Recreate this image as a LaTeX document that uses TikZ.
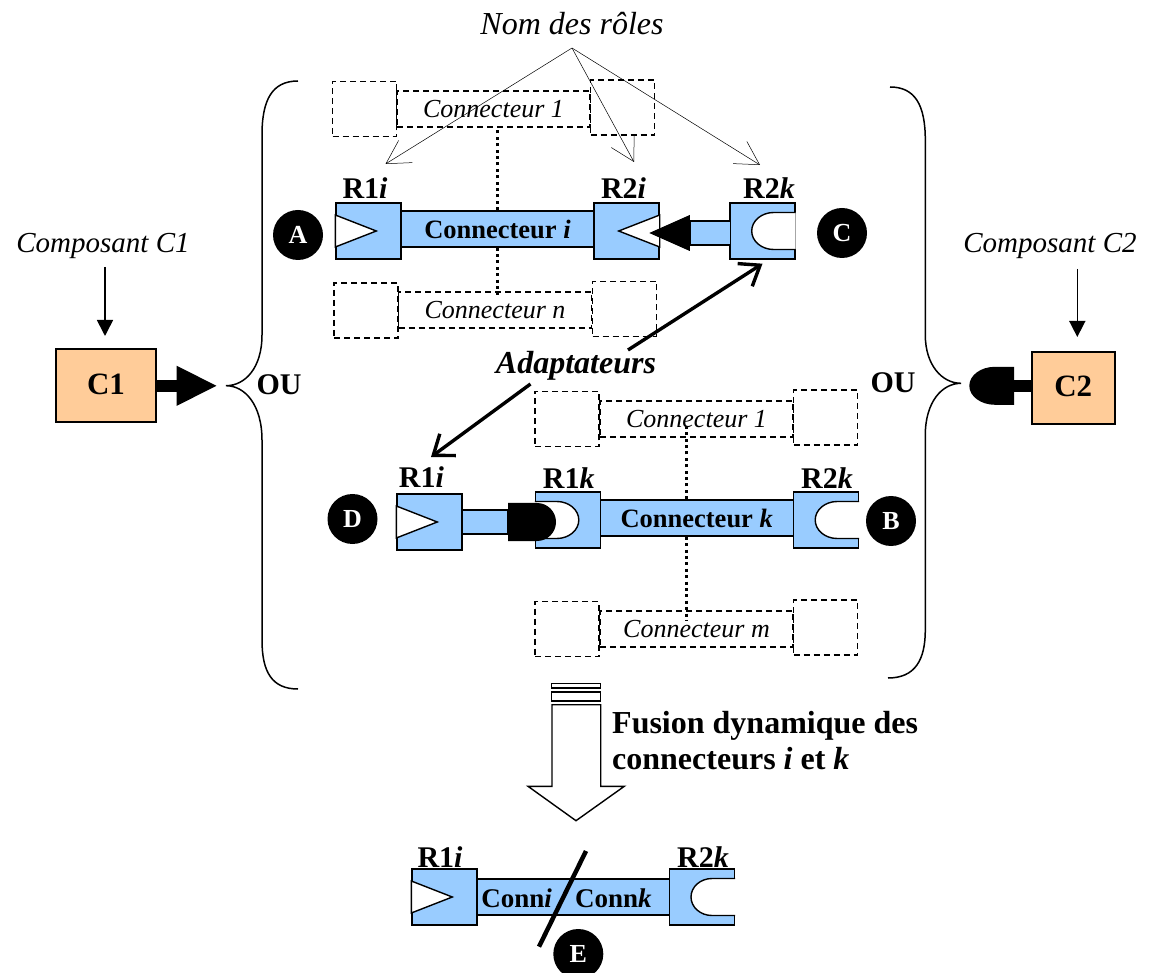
\documentclass[tikz,border=0pt]{standalone}
\usepackage{fontspec}
\setmainfont{Liberation Serif}
\usepackage{tikz}
\usetikzlibrary{arrows.meta, positioning, calc}
\definecolor{connblue}{HTML}{99CCFF}
\definecolor{compcolor}{HTML}{FFCC99}

\begin{document}
\begin{tikzpicture}[x=1pt, y=-1pt,
                role/.style={draw, line width=1.4pt, fill=connblue, minimum width=65pt, minimum height=56pt, inner sep=0pt},
                conn/.style={draw, line width=1.4pt, fill=connblue, minimum width=193pt, minimum height=36pt, inner sep=0pt,
                           font=\fontsize{26.5}{28}\selectfont\bfseries},
                adaptbar/.style={draw, line width=1.4pt, fill=connblue, minimum height=24pt, inner sep=0pt},
                ghostrole/.style={draw, line width=1.1pt, dash pattern=on 6pt off 4pt, minimum width=64pt, minimum height=55pt, inner sep=0pt},
                ghostconn/.style={draw, line width=1.1pt, dash pattern=on 6pt off 4pt, minimum width=193pt, minimum height=36pt, inner sep=0pt,
                           font=\fontsize{26}{28}\selectfont\itshape},
                comp/.style={draw, line width=1.6pt, fill=compcolor, inner sep=0pt, font=\fontsize{31}{33}\selectfont\bfseries},
                letterdot/.style={circle, fill=black, text=white, minimum size=50pt, inner sep=0pt, font=\fontsize{26}{28}\selectfont\bfseries},
                rolename/.style={inner sep=0pt, font=\fontsize{30}{32}\selectfont\bfseries},
                note/.style={inner sep=0pt, font=\fontsize{29}{31}\selectfont\itshape},
                port/.style={draw, line width=1.4pt, fill=white},
                dotlink/.style={line width=3pt, dash pattern=on 3pt off 3.4pt},
                namearrow/.style={line width=0.5pt, -{Straight Barb[length=23pt,width=26pt,line width=0.5pt]}},
                adaptarrow/.style={line width=3.4pt, -{Straight Barb[length=18pt,width=27pt,line width=3.4pt]}},
                callarrow/.style={line width=1.6pt, -{Triangle[length=16pt,width=16pt]}},
                brace/.style={line width=1.5pt}]

                \useasboundingbox (0,0) rectangle (1152,973);

                % Composants et accolades
                \node[comp, minimum width=100pt, minimum height=73pt] (c1) at (106,385.8) {\raisebox{4pt}{C1}};
                \node[comp, minimum width=83pt, minimum height=72pt] (c2) at (1073.3,387.9) {\raisebox{4pt}{C2}};
                \node[note] (compa) at (103,246) {Composant C1};
                \node[note] (compb) at (1050,246) {Composant C2};
                \coordinate (compatip) at (105,336);
                \coordinate (compbtip) at (1077.3,337);
                \draw[callarrow] (compa.south -| compatip) ++(0,8) -- (compatip);
                \draw[callarrow] (compb.south -| compbtip) ++(0,10) -- (compbtip);
                \coordinate (c1tip) at (217.5,385.8);
                \draw[line width=12pt, -{Triangle[length=41pt,width=37pt]}] (c1.east |- c1tip) -- (c1tip);
                \coordinate (c2cup) at (1014,385.8);
                \draw[line width=12pt] (c2.west |- c2cup) -- (c2cup);
                \fill ([yshift=19pt]c2cup) -- ++(-19,0) arc[start angle=90, end angle=270, x radius=25.7pt, y radius=19pt] -- ++(19,0) -- cycle;
                \draw[brace] (298,81) .. controls (272,81) and (262,100) .. (262,135) -- (262,335)
                    .. controls (262,368) and (245,385.7) .. (226,385.7)
                    .. controls (245,385.7) and (262,405) .. (262,440) -- (262,640)
                    .. controls (262,672) and (272,689) .. (298,689);
                \draw[brace] (890,87) .. controls (915,87) and (925.3,105) .. (925.3,140) -- (925.3,335)
                    .. controls (925.3,365) and (942,383.3) .. (961,383.3)
                    .. controls (942,383.3) and (925.3,402) .. (925.3,435) -- (925.3,630)
                    .. controls (925.3,660) and (915,678) .. (888,678);
                \node[rolename] (oua) at (279,385) {OU};
                \node[rolename] (oub) at (893,383) {OU};

                % Connecteur i
                \node[ghostrole] (g1a) at (364.5,109) {};
                \node[ghostrole] (g1b) at (622.5,107.5) {};
                \node[ghostconn] (g1c) at (493.5,109) {Connecteur 1};
                \node[ghostrole] (gna) at (366,310.5) {};
                \node[ghostrole] (gnb) at (624.5,309) {};
                \node[ghostconn] (gnc) at (495,310) {Connecteur n};
                \node[role] (r1ia) at (368.5,231) {};
                \node[role] (r2ia) at (626.5,231) {};
                \node[role] (r2kc) at (762.5,231) {};
                \node[conn] (conni) at (497.5,229) {Connecteur \textit{i}};
                \draw[dotlink] (conni.north) -- (conni.north |- g1c.south);
                \draw[dotlink] (conni.south) -- ++(0,50);
                \draw[port] ([yshift=16pt]r1ia.west) -- ++(41,16) -- ++(-41,16) -- cycle;
                \draw[port] ([yshift=16pt]r2ia.east) -- ++(-41,16) -- ++(41,16) -- cycle;
                \draw[port] ([yshift=18.5pt]r2kc.east) -- ++(-22,0) arc[start angle=90, end angle=270, x radius=22pt, y radius=18.5pt] -- ++(22,0);
                \node[adaptbar, minimum width=40pt] (adaptc) at (710.5,233) {};
                \fill (adaptc.west) ++(0,-18) -- ++(0,36) -- ++(-40.5,-18) -- cycle;
                \node[letterdot] (marka) at (298,235) {A};
                \node[letterdot] (markc) at (842,233) {C};
                \node[rolename] (l1ia) at (365,188) {R1\textit{i}};
                \node[rolename] (l2ia) at (623.5,188) {R2\textit{i}};
                \node[rolename] (l2kc) at (769,188) {R2\textit{k}};

                % Connecteur k
                \node[ghostrole] (g2a) at (567,419) {};
                \node[ghostrole] (g2b) at (825.5,417.5) {};
                \node[ghostconn] (g2c) at (696.5,419) {Connecteur 1};
                \node[ghostrole] (gma) at (567,629) {};
                \node[ghostrole] (gmb) at (825.5,627.5) {};
                \node[ghostconn] (gmc) at (696.5,629) {Connecteur m};
                \node[role] (r1id) at (429.5,522) {};
                \node[role] (r1kd) at (568,520) {};
                \node[role] (r2kb) at (826,520) {};
                \node[conn] (connk) at (696.7,518) {Connecteur \textit{k}};
                \draw[dotlink] ([xshift=-10.5pt]connk.north) -- ++(0,-74);
                \draw[dotlink] ([xshift=-10.5pt]connk.south) -- ++(0,84);
                \draw[port] ([yshift=16pt]r1id.west) -- ++(41,16) -- ++(-41,16) -- cycle;
                \draw[port] ([yshift=18.5pt]r1kd.west) -- ++(22,0) arc[start angle=90, end angle=-90, x radius=22pt, y radius=18.5pt] -- ++(-22,0);
                \draw[port] ([yshift=18.5pt]r2kb.east) -- ++(-22,0) arc[start angle=90, end angle=270, x radius=22pt, y radius=18.5pt] -- ++(22,0);
                \node[adaptbar, minimum width=45pt] (adaptd) at (484.8,522) {};
                \fill ([yshift=19pt]adaptd.east) -- ++(29,0) arc[start angle=90, end angle=-90, radius=19pt] -- ++(-29,0) -- cycle;
                \node[letterdot] (markd) at (352.5,519) {D};
                \node[letterdot] (markb) at (891,521) {B};
                \node[rolename] (l1id) at (421.4,477) {R1\textit{i}};
                \node[rolename] (l1kd) at (568.8,478) {R1\textit{k}};
                \node[rolename] (l2kb) at (827,478) {R2\textit{k}};

                % Noms des roles
                \node[inner sep=0pt, font=\fontsize{32}{34}\selectfont\itshape] (noms) at (572,24) {Nom des rôles};
                \coordinate (nomsapex) at (572,48);
                \coordinate (noma) at (385.5,164);
                \coordinate (nomb) at (634,162);
                \coordinate (nomc) at (760,165);
                \draw[namearrow] (nomsapex) -- (noma);
                \draw[namearrow] (nomsapex) -- (nomb);
                \draw[namearrow] (nomsapex) -- (nomc);

                % Adaptateurs
                \node[inner sep=0pt, font=\fontsize{32}{34}\selectfont\bfseries\itshape] (adapt) at (576,366) {Adaptateurs};
                \coordinate (adaptup) at (628,350);
                \coordinate (adaptdown) at (530.5,384);
                \coordinate (adaptdtip) at (431,457);
                \draw[adaptarrow] (adaptup) -- ([yshift=-4pt]r2kc.south);
                \draw[adaptarrow] (adaptdown) -- (adaptdtip);

                % Fusion
                \draw[line width=1.4pt] (551.7,683.3) rectangle (600.7,688);
                \draw[line width=1.4pt] (551.7,692) rectangle (600.7,701);
                \draw[line width=1.4pt, fill=white] (552,704.7) -- (600.7,704.7) -- (600.7,786.3) -- (624.3,786.3)
                    -- (576,820.7) -- (528,786.3) -- (552,786.3) -- cycle;
                \node[inner sep=0pt, align=left, anchor=north west, font=\fontsize{32}{36.5}\selectfont\bfseries] (fusion) at (612,711)
                    {Fusion dynamique des\\connecteurs \textit{i} et \textit{k}};

                % Connecteur fusionne
                \node[role] (r1ie) at (444.5,897) {};
                \node[role] (r2ke) at (701.8,897) {};
                \node[conn, minimum width=192pt] (conne) at (573.3,897) {};
                \node[inner sep=0pt, font=\fontsize{27}{29}\selectfont\bfseries] (conneleft) at (516.7,898.3) {Conn\textit{i}};
                \node[inner sep=0pt, font=\fontsize{27}{29}\selectfont\bfseries] (conneright) at (613.3,898.3) {Conn\textit{k}};
                \draw[port] ([yshift=16pt]r1ie.west) -- ++(41,16) -- ++(-41,16) -- cycle;
                \draw[port] ([yshift=18.5pt]r2ke.east) -- ++(-23,0) arc[start angle=90, end angle=270, x radius=21pt, y radius=18.5pt] -- ++(23,0);
                \coordinate (cuttop) at (586,851);
                \coordinate (cutbottom) at (539,946.7);
                \draw[line width=4.5pt] (cuttop) -- (cutbottom);
                \node[letterdot] (marke) at (578.3,954) {E};
                \node[rolename] (l1ie) at (440,857) {R1\textit{i}};
                \node[rolename] (l2ke) at (703,857) {R2\textit{k}};
            \end{tikzpicture}
\end{document}
